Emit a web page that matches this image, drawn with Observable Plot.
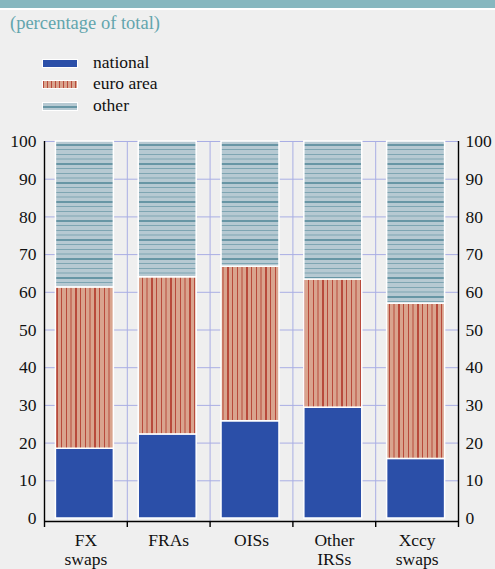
<!DOCTYPE html>
<html>
<head>
<meta charset="utf-8">
<script src="https://cdn.jsdelivr.net/npm/d3@7"></script>
<script src="https://cdn.jsdelivr.net/npm/@observablehq/plot@0.6"></script>
<style>
  html, body { margin: 0; padding: 0; background: #efefef; }
  #wrap { position: relative; width: 495px; height: 569px; background: #efefef; overflow: hidden;
          font-family: "Liberation Serif", "Times New Roman", Times, "DejaVu Serif", serif; color: #111; }
  #topbar { position: absolute; left: 0; top: 0; width: 495px; height: 8px; background: #86b7bf; }
  #topline { position: absolute; left: 0; top: 8px; width: 495px; height: 2px; background: #ffffff; }
  #sub { position: absolute; left: 10px; top: 13px; font-size: 18.5px; line-height: 20px; color: #62a5ad; white-space: nowrap; }
  .sw { position: absolute; left: 43px; width: 34px; height: 7px; box-shadow: 0 0 0 1px #ffffff; }
  .lt { position: absolute; left: 93px; font-size: 17.5px; line-height: 20px; white-space: nowrap; }
  #chart { position: absolute; left: 0; top: 125px; }
</style>
</head>
<body>
<div id="wrap">
  <div id="topbar"></div>
  <div id="topline"></div>
  <div id="sub">(percentage of total)</div>
  <div id="legend"></div>
  <div id="chart"></div>
</div>
<script>
// ---- data ----
const categories = ["FX\nswaps", "FRAs", "OISs", "Other\nIRSs", "Xccy\nswaps"];
const seriesNames = ["national", "euro area", "other"];
const national = [18.5, 22.3, 25.8, 29.4, 15.8];
const euroArea = [42.8, 41.7, 41.0, 34.0, 41.2];
const other = [38.7, 36.0, 33.2, 36.6, 43.0];
const yTicks = [0, 10, 20, 30, 40, 50, 60, 70, 80, 90, 100];

// ---- styles ----
const fontStack = "'Liberation Serif', 'Times New Roman', Times, 'DejaVu Serif', serif";
const colBlue = "#2b4fa8";
const euroBase = "#d9a48e", euroLine = "#b84a3b";
const otherBase = "#b6c9d2", otherLine = "#6896a5", otherLineThin = "#7ea5b2";
const gridCol = "#a9aee4";

// legend (HTML)
const legendSwatches = [
  colBlue,
  `repeating-linear-gradient(90deg, ${euroLine} 0 1px, ${euroBase} 1px 4px)`,
  `repeating-linear-gradient(180deg, ${otherBase} 0 3px, ${otherLine} 3px 5px, ${otherBase} 5px 8px)`
];
const legendTops = [60, 81, 103];
const legend = document.getElementById("legend");
seriesNames.forEach((name, k) => {
  const sw = document.createElement("div");
  sw.className = "sw";
  sw.style.top = legendTops[k] + "px";
  sw.style.background = legendSwatches[k];
  legend.appendChild(sw);
  const t = document.createElement("div");
  t.className = "lt";
  t.style.top = (legendTops[k] - 8) + "px";
  t.textContent = name;
  legend.appendChild(t);
});

// build table
const seriesValues = [national, euroArea, other];
const table = [];
categories.forEach((c, i) => {
  seriesNames.forEach((s, k) => table.push({i, category: c, series: s, value: seriesValues[k][i]}));
});

const bounds = d3.range(categories.length + 1).map(j => j - 0.5);
const innerBounds = bounds.slice(1, -1);
const edgeBounds = [bounds[0], bounds[bounds.length - 1]];

const plot = Plot.plot({
  width: 495,
  height: 444,
  marginTop: 16,
  marginBottom: 48,
  marginLeft: 44,
  marginRight: 37,
  style: {background: "transparent", fontFamily: fontStack, fontSize: "17.5px", color: "#111", overflow: "visible"},
  x: {domain: [bounds[0], bounds[bounds.length - 1]], axis: null},
  y: {domain: [0, 100], insetBottom: 3, axis: null},
  color: {domain: seriesNames, range: [colBlue, "url(#patEuro)", "url(#patOther)"]},
  marks: [
    Plot.ruleY(yTicks.filter(v => v > 0), {stroke: gridCol, strokeWidth: 1}),
    Plot.ruleX(innerBounds, {stroke: gridCol, strokeWidth: 1}),
    Plot.rectY(table, {
      x1: d => d.i - 0.35, x2: d => d.i + 0.35, y: "value", fill: "series",
      stroke: "#ffffff", strokeWidth: 1.5, dx: -1
    }),
    Plot.ruleX(edgeBounds, {stroke: "#000", strokeWidth: 1.4}),
    Plot.ruleY([0], {stroke: "#000", strokeWidth: 1.4, dy: 3}),
    Plot.ruleX(bounds, {y1: 0, y2: 0, insetBottom: -6, dy: 3, stroke: "#000", strokeWidth: 1.4}),
    Plot.axisY(yTicks, {anchor: "left", tickSize: 0, tickPadding: 8, label: null, fill: "#111"}),
    Plot.axisY(yTicks, {anchor: "right", tickSize: 0, tickPadding: 7, label: null, fill: "#111"}),
    Plot.text(categories, {x: (d, i) => i, frameAnchor: "bottom", lineAnchor: "top", dy: 10, lineHeight: 1.13, fill: "#111", text: d => d})
  ]
});

// patterns
const defs = d3.select(plot).insert("defs", ":first-child");
const pe = defs.append("pattern").attr("id", "patEuro").attr("patternUnits", "userSpaceOnUse")
  .attr("width", 19).attr("height", 10);
pe.append("rect").attr("width", 19).attr("height", 10).attr("fill", euroBase);
[[0, 2], [5, 1], [10, 1], [14.5, 1]].forEach(([x, w]) =>
  pe.append("rect").attr("x", x).attr("y", 0).attr("width", w).attr("height", 10).attr("fill", euroLine));
const po = defs.append("pattern").attr("id", "patOther").attr("patternUnits", "userSpaceOnUse")
  .attr("width", 10).attr("height", 19);
po.append("rect").attr("width", 10).attr("height", 19).attr("fill", otherBase);
[[0, 2, otherLine], [5, 1, otherLineThin], [10, 1, otherLineThin], [14.5, 1, otherLineThin]].forEach(([y, h, c]) =>
  po.append("rect").attr("x", 0).attr("y", y).attr("width", 10).attr("height", h).attr("fill", c));

document.getElementById("chart").appendChild(plot);
</script>
</body>
</html>
